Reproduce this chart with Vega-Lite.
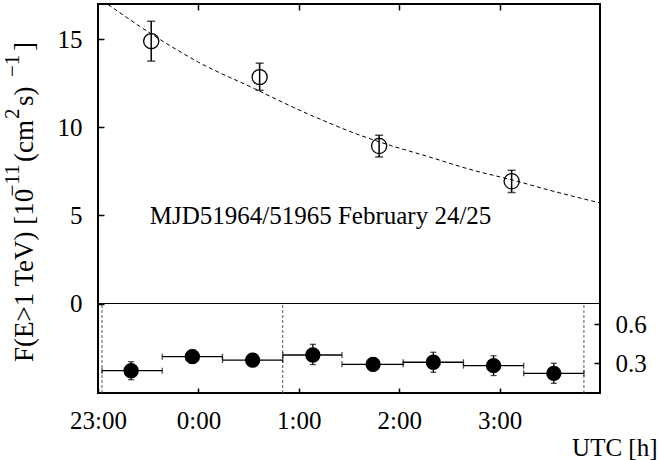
{
  "$schema": "https://vega.github.io/schema/vega-lite/v6.json",
  "width": 502,
  "height": 389,
  "autosize": {"type": "none"},
  "padding": {"left": 98, "top": 4, "right": 58, "bottom": 67},
  "config": {
    "font": "Liberation Serif, Times New Roman, serif",
    "view": {"stroke": "black", "strokeWidth": 2},
    "text": {"font": "Liberation Serif, Times New Roman, serif", "color": "black"},
    "axis": {
      "grid": false, "domain": false,
      "labelFont": "Liberation Serif, Times New Roman, serif", "labelFontSize": 25, "labelColor": "black",
      "tickColor": "black", "tickWidth": 1.5,
      "titleFont": "Liberation Serif, Times New Roman, serif", "titleFontSize": 25, "titleFontWeight": "normal", "titleColor": "black",
      "labelFlush": false, "labelOverlap": false
    }
  },
  "datasets": {
    "top": [
      {"t": 23.53, "f": 14.89, "lo": 13.76, "hi": 16.02},
      {"t": 24.61, "f": 12.85, "lo": 12.10, "hi": 13.64},
      {"t": 25.80, "f": 8.94, "lo": 8.32, "hi": 9.55},
      {"t": 27.12, "f": 6.94, "lo": 6.30, "hi": 7.56}
    ],
    "curve": [
      {"t": 23.10, "f": 16.97},
      {"t": 23.60, "f": 15.05},
      {"t": 24.00, "f": 13.70},
      {"t": 24.56, "f": 12.19},
      {"t": 24.94, "f": 11.15},
      {"t": 25.28, "f": 10.30},
      {"t": 25.61, "f": 9.55},
      {"t": 25.91, "f": 8.98},
      {"t": 26.30, "f": 8.32},
      {"t": 26.70, "f": 7.62},
      {"t": 27.12, "f": 7.02},
      {"t": 27.55, "f": 6.35},
      {"t": 28.00, "f": 5.71}
    ],
    "bottom": [
      {"t": 23.33, "t0": 23.04, "t1": 23.64, "r": 0.243, "rlo": 0.174, "rhi": 0.312},
      {"t": 23.94, "t0": 23.64, "t1": 24.24, "r": 0.351, "rlo": 0.301, "rhi": 0.401},
      {"t": 24.54, "t0": 24.24, "t1": 24.84, "r": 0.325, "rlo": 0.275, "rhi": 0.375},
      {"t": 25.14, "t0": 24.84, "t1": 25.43, "r": 0.364, "rlo": 0.290, "rhi": 0.446},
      {"t": 25.74, "t0": 25.43, "t1": 26.04, "r": 0.292, "rlo": 0.242, "rhi": 0.342},
      {"t": 26.34, "t0": 26.04, "t1": 26.64, "r": 0.308, "rlo": 0.231, "rhi": 0.385},
      {"t": 26.94, "t0": 26.64, "t1": 27.24, "r": 0.282, "rlo": 0.206, "rhi": 0.358},
      {"t": 27.54, "t0": 27.24, "t1": 27.84, "r": 0.223, "rlo": 0.146, "rhi": 0.300}
    ],
    "vlines": [
      {"t": 23.04},
      {"t": 24.84},
      {"t": 27.84}
    ],
    "one": [{"a": 1}]
  },
  "layer": [
    {
      "data": {"name": "curve"},
      "mark": {"type": "line", "color": "black", "strokeWidth": 1, "strokeDash": [4, 3], "interpolate": "monotone"},
      "encoding": {
        "x": {"field": "t", "type": "quantitative", "scale": {"domain": [23, 28], "nice": false, "zero": false},
          "axis": {"orient": "top", "values": [24, 25, 26, 27], "labels": false, "tickSize": -6, "title": null}},
        "y": {"field": "f", "type": "quantitative", "scale": {"domain": [-5.08, 17], "nice": false, "zero": false},
          "axis": {"orient": "left", "values": [0, 5, 10, 15], "tickSize": -6, "labelPadding": 22, "title": null}}
      }
    },
    {
      "data": {"name": "one"},
      "mark": {"type": "rule", "color": "black", "strokeWidth": 1.2},
      "encoding": {
        "y": {"datum": 0, "type": "quantitative", "scale": {"domain": [-5.08, 17], "nice": false, "zero": false}, "axis": null}
      }
    },
    {
      "data": {"name": "top"},
      "mark": {"type": "rule", "color": "black", "strokeWidth": 1.5},
      "encoding": {
        "x": {"field": "t", "type": "quantitative", "axis": null},
        "y": {"field": "lo", "type": "quantitative", "scale": {"domain": [-5.08, 17], "nice": false, "zero": false}, "axis": null},
        "y2": {"field": "hi"}
      }
    },
    {
      "data": {"name": "top"},
      "mark": {"type": "tick", "orient": "horizontal", "color": "black", "size": 8, "thickness": 1.5},
      "encoding": {
        "x": {"field": "t", "type": "quantitative", "axis": null},
        "y": {"field": "lo", "type": "quantitative", "scale": {"domain": [-5.08, 17], "nice": false, "zero": false}, "axis": null}
      }
    },
    {
      "data": {"name": "top"},
      "mark": {"type": "tick", "orient": "horizontal", "color": "black", "size": 8, "thickness": 1.5},
      "encoding": {
        "x": {"field": "t", "type": "quantitative", "axis": null},
        "y": {"field": "hi", "type": "quantitative", "scale": {"domain": [-5.08, 17], "nice": false, "zero": false}, "axis": null}
      }
    },
    {
      "data": {"name": "top"},
      "mark": {"type": "point", "shape": "circle", "filled": false, "color": "black", "size": 230, "strokeWidth": 1.3, "opacity": 1},
      "encoding": {
        "x": {"field": "t", "type": "quantitative", "axis": null},
        "y": {"field": "f", "type": "quantitative", "scale": {"domain": [-5.08, 17], "nice": false, "zero": false}, "axis": null}
      }
    },
    {
      "data": {"name": "one"},
      "mark": {"type": "text", "align": "left", "baseline": "alphabetic", "fontSize": 25},
      "encoding": {
        "x": {"datum": 23.515, "type": "quantitative", "axis": null},
        "y": {"datum": 4.5, "type": "quantitative", "scale": {"domain": [-5.08, 17], "nice": false, "zero": false}, "axis": null},
        "text": {"value": "MJD51964/51965 February 24/25"}
      }
    },
    {
      "data": {"name": "one"},
      "mark": {"type": "text", "align": "left", "baseline": "alphabetic", "fontSize": 27, "angle": 270},
      "encoding": {
        "x": {"datum": 22.35, "type": "quantitative", "axis": null},
        "y": {"datum": -3.32, "type": "quantitative", "scale": {"domain": [-5.08, 17], "nice": false, "zero": false}, "axis": null},
        "text": {"value": "F(E>1 TeV) [10"}
      }
    },
    {
      "data": {"name": "one"},
      "mark": {"type": "text", "align": "left", "baseline": "alphabetic", "fontSize": 21, "angle": 270},
      "encoding": {
        "x": {"datum": 22.21, "type": "quantitative", "axis": null},
        "y": {"datum": 6.073, "type": "quantitative", "scale": {"domain": [-5.08, 17], "nice": false, "zero": false}, "axis": null},
        "text": {"value": "−11"}
      }
    },
    {
      "data": {"name": "one"},
      "mark": {"type": "text", "align": "left", "baseline": "alphabetic", "fontSize": 27, "angle": 270},
      "encoding": {
        "x": {"datum": 22.35, "type": "quantitative", "axis": null},
        "y": {"datum": 8.031, "type": "quantitative", "scale": {"domain": [-5.08, 17], "nice": false, "zero": false}, "axis": null},
        "text": {"value": "(cm"}
      }
    },
    {
      "data": {"name": "one"},
      "mark": {"type": "text", "align": "left", "baseline": "alphabetic", "fontSize": 21, "angle": 270},
      "encoding": {
        "x": {"datum": 22.21, "type": "quantitative", "axis": null},
        "y": {"datum": 10.472, "type": "quantitative", "scale": {"domain": [-5.08, 17], "nice": false, "zero": false}, "axis": null},
        "text": {"value": "2"}
      }
    },
    {
      "data": {"name": "one"},
      "mark": {"type": "text", "align": "left", "baseline": "alphabetic", "fontSize": 27, "angle": 270},
      "encoding": {
        "x": {"datum": 22.35, "type": "quantitative", "axis": null},
        "y": {"datum": 11.21, "type": "quantitative", "scale": {"domain": [-5.08, 17], "nice": false, "zero": false}, "axis": null},
        "text": {"value": " s)"}
      }
    },
    {
      "data": {"name": "one"},
      "mark": {"type": "text", "align": "left", "baseline": "alphabetic", "fontSize": 21, "angle": 270},
      "encoding": {
        "x": {"datum": 22.21, "type": "quantitative", "axis": null},
        "y": {"datum": 12.856, "type": "quantitative", "scale": {"domain": [-5.08, 17], "nice": false, "zero": false}, "axis": null},
        "text": {"value": "−1"}
      }
    },
    {
      "data": {"name": "one"},
      "mark": {"type": "text", "align": "left", "baseline": "alphabetic", "fontSize": 27, "angle": 270},
      "encoding": {
        "x": {"datum": 22.35, "type": "quantitative", "axis": null},
        "y": {"datum": 14.332, "type": "quantitative", "scale": {"domain": [-5.08, 17], "nice": false, "zero": false}, "axis": null},
        "text": {"value": "]"}
      }
    },
    {
      "data": {"name": "vlines"},
      "mark": {"type": "rule", "color": "#555555", "strokeWidth": 1, "strokeDash": [3, 2]},
      "encoding": {
        "x": {"field": "t", "type": "quantitative", "axis": null},
        "y": {"datum": 0.0715, "type": "quantitative", "scale": {"domain": [0.0715, 3.064], "nice": false, "zero": false}, "axis": null},
        "y2": {"datum": 0.76}
      }
    },
    {
      "data": {"name": "bottom"},
      "mark": {"type": "rule", "color": "black", "strokeWidth": 1.3},
      "encoding": {
        "x": {"field": "t0", "type": "quantitative", "axis": null},
        "x2": {"field": "t1"},
        "y": {"field": "r", "type": "quantitative", "scale": {"domain": [0.0715, 3.064], "nice": false, "zero": false}, "axis": null}
      }
    },
    {
      "data": {"name": "bottom"},
      "mark": {"type": "tick", "orient": "vertical", "color": "black", "size": 6, "thickness": 1.3},
      "encoding": {
        "x": {"field": "t0", "type": "quantitative", "axis": null},
        "y": {"field": "r", "type": "quantitative", "scale": {"domain": [0.0715, 3.064], "nice": false, "zero": false}, "axis": null}
      }
    },
    {
      "data": {"name": "bottom"},
      "mark": {"type": "tick", "orient": "vertical", "color": "black", "size": 6, "thickness": 1.3},
      "encoding": {
        "x": {"field": "t1", "type": "quantitative", "axis": null},
        "y": {"field": "r", "type": "quantitative", "scale": {"domain": [0.0715, 3.064], "nice": false, "zero": false}, "axis": null}
      }
    },
    {
      "data": {"name": "bottom"},
      "mark": {"type": "rule", "color": "black", "strokeWidth": 1.3},
      "encoding": {
        "x": {"field": "t", "type": "quantitative", "axis": null},
        "y": {"field": "rlo", "type": "quantitative", "scale": {"domain": [0.0715, 3.064], "nice": false, "zero": false}, "axis": null},
        "y2": {"field": "rhi"}
      }
    },
    {
      "data": {"name": "bottom"},
      "mark": {"type": "tick", "orient": "horizontal", "color": "black", "size": 6, "thickness": 1.3},
      "encoding": {
        "x": {"field": "t", "type": "quantitative", "axis": null},
        "y": {"field": "rhi", "type": "quantitative", "scale": {"domain": [0.0715, 3.064], "nice": false, "zero": false}, "axis": null}
      }
    },
    {
      "data": {"name": "bottom"},
      "mark": {"type": "tick", "orient": "horizontal", "color": "black", "size": 6, "thickness": 1.3},
      "encoding": {
        "x": {"field": "t", "type": "quantitative", "axis": null},
        "y": {"field": "rlo", "type": "quantitative", "scale": {"domain": [0.0715, 3.064], "nice": false, "zero": false}, "axis": null}
      }
    },
    {
      "data": {"name": "bottom"},
      "mark": {"type": "point", "shape": "circle", "filled": true, "color": "black", "size": 235, "opacity": 1},
      "encoding": {
        "x": {"field": "t", "type": "quantitative", "scale": {"domain": [23, 28], "nice": false, "zero": false},
          "axis": {"orient": "bottom", "values": [23, 24, 25, 26, 27], "tickSize": -5, "labelPadding": 20,
            "labelExpr": "datum.value >= 24 ? (datum.value - 24) + ':00' : datum.value + ':00'",
            "title": "UTC [h]", "titleX": 559, "titleY": 62, "titleAlign": "right", "titleBaseline": "alphabetic"}},
        "y": {"field": "r", "type": "quantitative", "scale": {"domain": [0.0715, 3.064], "nice": false, "zero": false},
          "axis": {"orient": "right", "values": [0.3, 0.6], "format": ".1f", "tickSize": -6, "labelPadding": 21, "title": null}}
      }
    }
  ],
  "resolve": {"scale": {"y": "independent"}, "axis": {"x": "independent"}}
}
